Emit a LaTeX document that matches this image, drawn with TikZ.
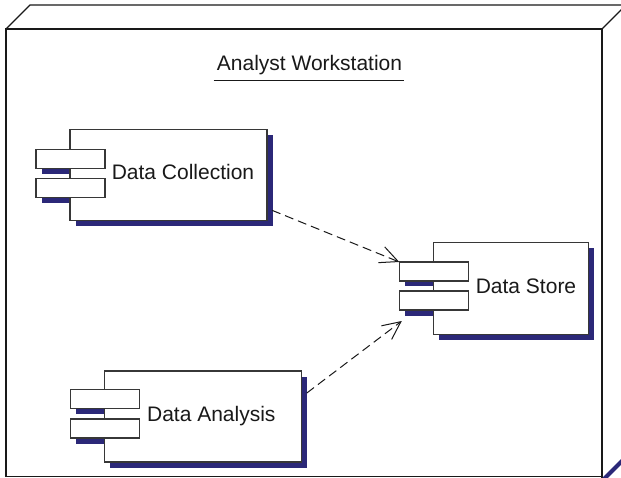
\documentclass[tikz,border=0pt]{standalone}
\usepackage{fontspec}
\setmainfont{Liberation Sans}
\usetikzlibrary{arrows.meta}
\definecolor{navyshadow}{RGB}{43,40,120}
\definecolor{edge}{RGB}{55,55,55}
\definecolor{ink}{RGB}{25,25,25}
\pgfdeclarelayer{backfill}
\pgfdeclarelayer{shadowlayer}
\pgfsetlayers{backfill,shadowlayer,main}
\newcommand{\castshadow}[1]{%
  \begin{pgfonlayer}{shadowlayer}
    \fill[navyshadow] ([shift={(5.5,5.5)}]#1.south west) rectangle ([shift={(5.5,5.5)}]#1.north east);
  \end{pgfonlayer}}
\tikzset{
  outerline/.style={draw=ink,line width=1.3pt},
  compbox/.style={draw=edge,fill=white,line width=1.2pt,rectangle,inner sep=0pt,outer sep=0pt,anchor=north west},
  bigbox/.style={compbox,minimum height=91pt},
  tab/.style={compbox,minimum width=69pt,minimum height=19pt},
  lbl/.style={font=\fontsize{21}{25}\selectfont,text=ink,inner sep=0pt,anchor=base},
  dep/.style={draw=ink,line width=1pt,dash pattern=on 9pt off 5pt,-{Straight Barb[length=18pt,width=17pt]}}
}
\begin{document}
\begin{tikzpicture}[x=1pt,y=-1pt]
\path[use as bounding box] (0,0) rectangle (621,478);
\clip (0,0) rectangle (621,478);
\begin{pgfonlayer}{backfill}
\fill[white] (0,0) rectangle (621,478);
\end{pgfonlayer}
% 3D deployment node
\draw[outerline] (6,476.5) -- (6,29) -- (602,29) -- (602,480);
\draw[outerline] (6,476.5) -- (602,476.5);
\draw[outerline] (6,29) -- (30,5) -- (630,5);
\draw[outerline] (602,29) -- (628,3);
\draw[draw=navyshadow,line width=4pt] (604,479) -- (626,457);
% title
\node[lbl] (aw) at (309.5,71) {Analyst Workstation};
\draw[ink,line width=1.2pt] ([shift={(-3,9.7)}]aw.base west) -- ([shift={(1.5,9.7)}]aw.base east);
% Data Collection
\node[bigbox,minimum width=197pt] (dcbox) at (70,129.3) {};
\castshadow{dcbox}
\node[tab] (dc1) at (36,149.3) {};
\castshadow{dc1}
\node[tab] (dc2) at (36,178.3) {};
\castshadow{dc2}
\node[lbl] (dct) at (183,180) {Data Collection};
% Data Store
\node[bigbox,minimum width=155pt,minimum height=92pt] (dsbox) at (433.3,242.3) {};
\castshadow{dsbox}
\node[tab] (ds1) at (399.3,262) {};
\castshadow{ds1}
\node[tab] (ds2) at (399.3,291) {};
\castshadow{ds2}
\node[lbl] (dst) at (526,293.3) {Data Store};
% Data Analysis
\node[bigbox,minimum width=197pt] (dabox) at (104.3,371) {};
\castshadow{dabox}
\node[tab] (da1) at (70.7,389.3) {};
\castshadow{da1}
\node[tab] (da2) at (70.7,419) {};
\castshadow{da2}
\node[lbl] (dat) at (211.3,421) {Data Analysis};
% dependencies
\draw[dep] ([shift={(5,-10)}]dcbox.south east) -- (ds1.north west);
\draw[dep] ([shift={(5.5,22)}]dabox.north east) -- ([shift={(2.5,11)}]ds2.south west);
\end{tikzpicture}
\end{document}
